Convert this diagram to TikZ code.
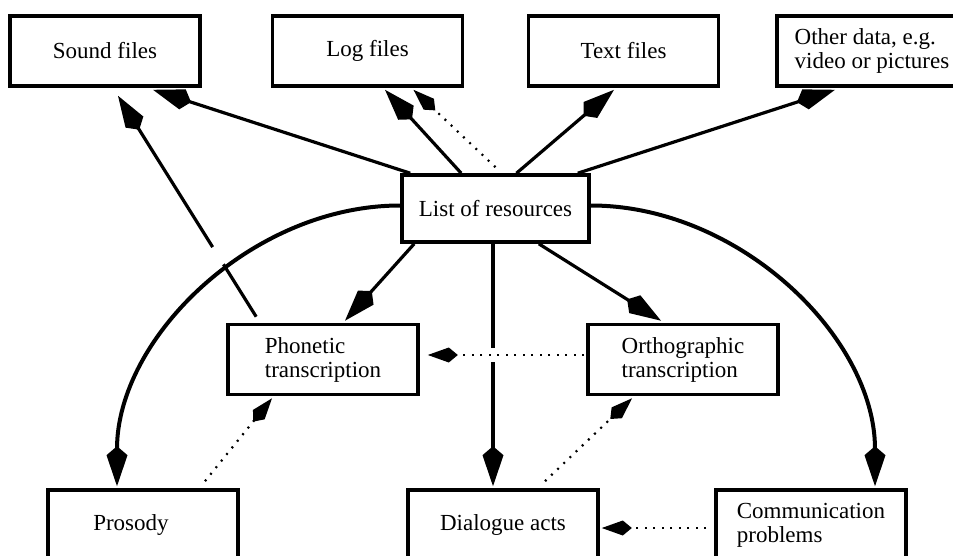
\documentclass[tikz,border=0pt]{standalone}
\usepackage{fontspec}
\setmainfont{Liberation Serif}
\usetikzlibrary{arrows.meta,calc}
\begin{document}
\begin{tikzpicture}[x=1pt,y=-1pt,
  box/.style={draw, line width=3.6pt, minimum width=190pt, minimum height=70pt,
    inner sep=0pt, font=\fontsize{23}{24}\selectfont, align=center},
  lbox/.style={box, align=left},
  solidarrow/.style={line width=3.2pt, -{Kite[length=40pt,width=21pt,inset=9pt]}},
  arcarrow/.style={line width=4pt, -{Kite[length=40pt,width=21pt,inset=9pt]}},
  dotarrow/.style={line width=2.2pt, dash pattern=on 2pt off 6.5pt,
    -{Kite[length=30pt,width=15pt,inset=9pt]}}]
\useasboundingbox (0,0) rectangle (953,556);
\clip (0,0) rectangle (953,556);

% boxes
\node[box] (sound) at (105,51) {Sound files};
\node[box] (log) at (367.5,51) {Log files};
\node[box] (text) at (623.5,51) {Text files};
\node[lbox] (other) at (872,51) {Other data, e.g.\\video or pictures};
\node[box, minimum width=187pt, minimum height=67pt] (list) at (495.5,208.5) {List of resources};
\node[lbox] (phon) at (323,359.5) {Phonetic\\transcription};
\node[lbox] (orth) at (683,359.5) {Orthographic\\transcription};
\node[box] (pros) at (143,525) {Prosody\hspace*{24pt}};
\node[box] (dial) at (503,525) {Dialogue acts};
\node[lbox] (comm) at (811,525) {Communication\\problems};

% solid connectors from the list
\draw[solidarrow] ($(list.north west)+(10,0)$) -- ($(sound.south)+(48,2)$);
\draw[solidarrow] ($(list.north west)+(61,0)$) -- ($(log.south)+(17.5,2)$);
\draw[solidarrow] ($(list.north)+(21,0)$) -- ($(text.south)+(-9.5,2)$);
\draw[solidarrow] ($(list.north east)+(-13,0)$) -- ($(other.south)+(-37,2)$);
\draw[solidarrow] ($(phon.north west)+(30,-6)$) -- ($(sound.south)+(13,8)$);
\draw[solidarrow] ($(list.south west)+(14,0)$) -- ($(phon.north)+(22,-2)$);
\draw[solidarrow] ($(list.south east)+(-52,0)$) -- ($(orth.north)+(-22,-2)$);
\draw[solidarrow] ($(list.south)+(-2.5,0)$) -- ($(dial.north)+(-10,-2)$);

% curved connectors
\draw[arcarrow, preaction={draw=white, line width=20pt, -, shorten <=60pt, shorten >=150pt}]
  ($(list.west)+(0,-3)$) to[out=180, in=90, looseness=0.95] ($(pros.north)+(-26,-2)$);
\draw[arcarrow] ($(list.east)+(0,-3)$) to[out=0, in=90, looseness=0.95] ($(comm.north)+(64,-2)$);

% dotted connectors
\draw[dotarrow] ($(list.north)+(0,-6)$) -- ($(log.south)+(46,2)$);
\draw[dotarrow, preaction={draw=white, solid, line width=14pt, -, shorten <=40pt, shorten >=40pt}]
  ($(orth.west)+(-2,-4.5)$) -- ($(phon.east)+(8,-4.5)$);
\draw[dotarrow] ($(pros.north)+(62,-7)$) -- ($(phon.south)+(-51,2)$);
\draw[dotarrow] ($(dial.north)+(42,-7)$) -- ($(orth.south)+(-51,2)$);
\draw[dotarrow] ($(comm.west)+(-8,3)$) -- ($(dial.east)+(2,3)$);
\end{tikzpicture}
\end{document}
